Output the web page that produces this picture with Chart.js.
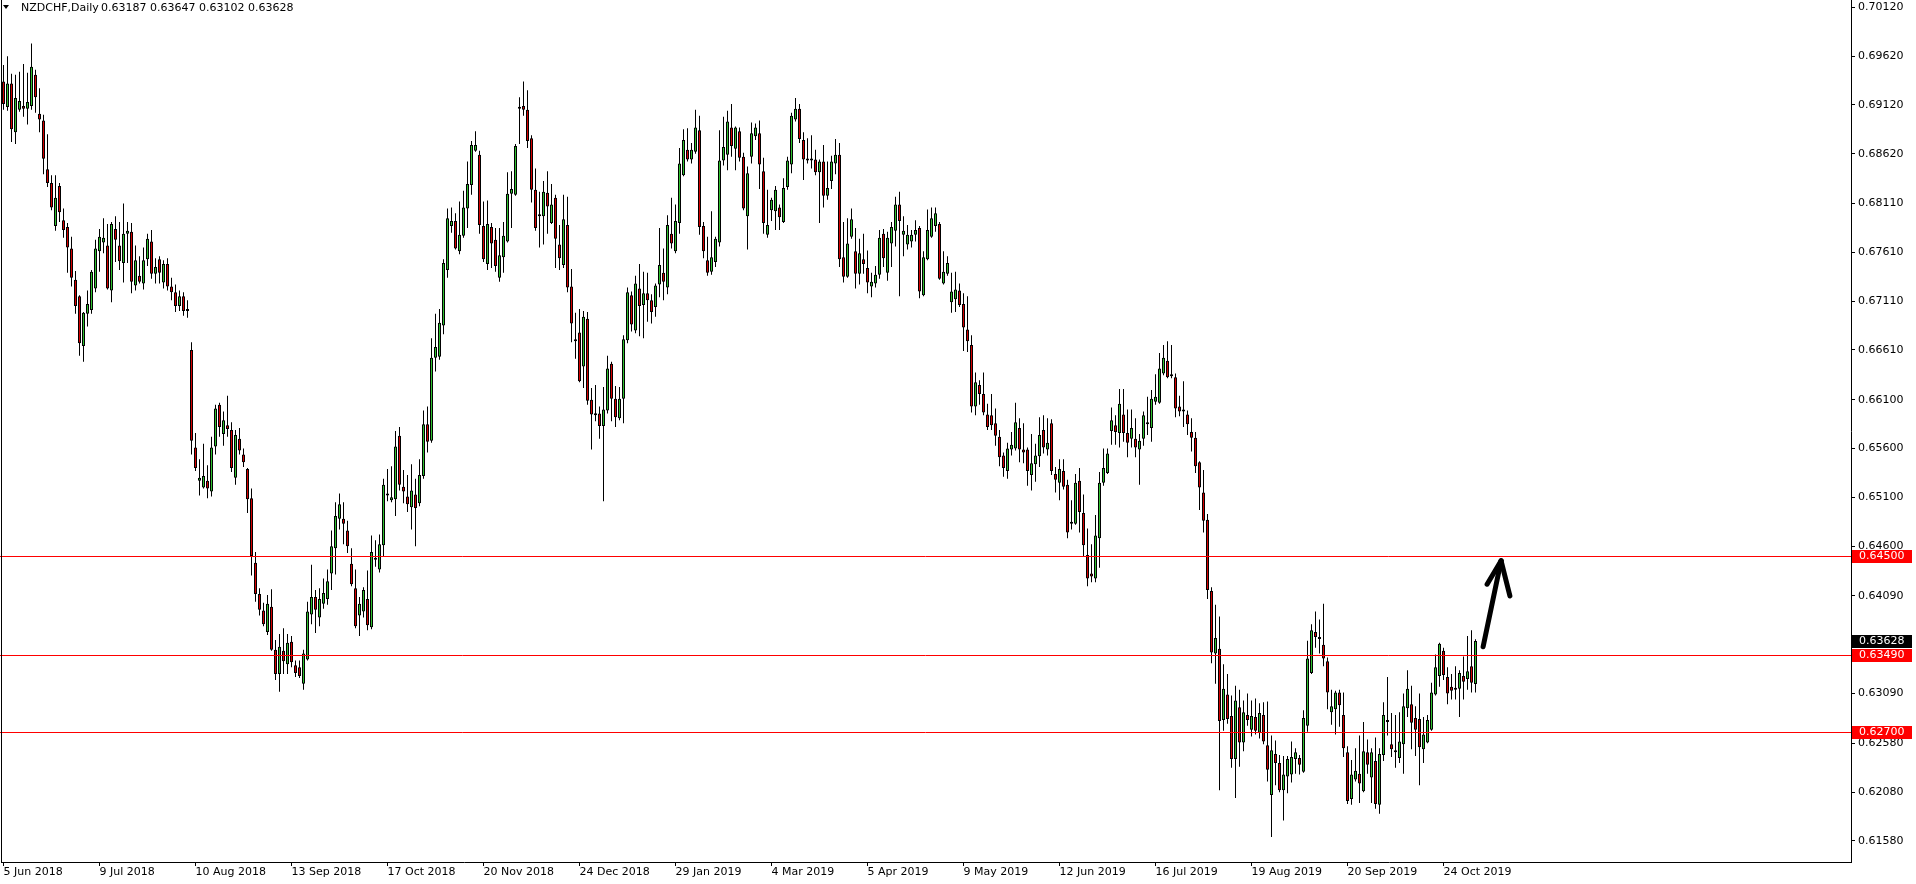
<!DOCTYPE html>
<html>
<head>
<meta charset="utf-8">
<title>NZDCHF Daily</title>
<script src="https://cdn.jsdelivr.net/npm/chart.js@4.4.1/dist/chart.umd.min.js"></script>
<style>
    html, body { margin: 0; padding: 0; background: #fff; }
    #wrap { position: relative; width: 1916px; height: 884px; overflow: hidden; }
    #chart { position: absolute; left: 0; top: 0; }
    .head { position: absolute; top: 1px; font: 11px "DejaVu Sans", sans-serif; color: #000; white-space: pre; }
    #tri { position: absolute; left: 3px; top: 5px; width: 0; height: 0;
           border-left: 3px solid transparent; border-right: 3px solid transparent; border-top: 4px solid #000; }
</style>
</head>
<body>
<div id="wrap">
    <canvas id="chart" width="1916" height="884"></canvas>
    <div id="tri"></div>
    <div class="head" id="symbol" style="left:21px"></div>
    <div class="head" id="ohlc" style="left:101px"></div>
</div>
<script>
// symbol + time frame shown in the top left corner
const symbol = 'NZDCHF,Daily'

// one label every 24 daily bars, first one is bar 0
const barsPerTick = 24
const dateTicks = ['5 Jun 2018', '9 Jul 2018', '10 Aug 2018', '13 Sep 2018', '17 Oct 2018',
    '20 Nov 2018', '24 Dec 2018', '29 Jan 2019', '4 Mar 2019', '5 Apr 2019', '9 May 2019',
    '12 Jun 2019', '16 Jul 2019', '19 Aug 2019', '20 Sep 2019', '24 Oct 2019']

// price scale on the right
const priceTicks = [0.70120, 0.69620, 0.69120, 0.68620, 0.68110, 0.67610, 0.67110, 0.66610,
    0.66100, 0.65600, 0.65100, 0.64600, 0.64090, 0.63590, 0.63090, 0.62580, 0.62080, 0.61580]

// horizontal support / resistance lines (red)
const levels = [0.64500, 0.63490, 0.62700]

// hand drawn arrow: [bar, price] for the tail, the tip and both head ends
const arrowTail = [369.9, 0.6357]
const arrowTip = [374.4, 0.6445]
const arrowWings = [[370.9, 0.6421], [376.6, 0.6409]]

const opens = [
    .6936,.6910,.6934,.6884,.6907,.6911,.6908,.6911,.6943,.6903,
    .6896,.6846,.6832,.6788,.6829,.6794,.6787,.6765,.6733,.6716,
    .6665,.6698,.6702,.6724,.6762,.6771,.6768,.6722,.6785,.6768,
    .6750,.6780,.6782,.6727,.6737,.6729,.6754,.6772,.6739,.6754,
    .6730,.6749,.6726,.6720,.6706,.6716,.6701,.6661,.6561,.6527,
    .6520,.6527,.6516,.6562,.6605,.6575,.6584,.6579,.6530,.6570,
    .6554,.6539,.6509,.6443,.6411,.6394,.6372,.6398,.6354,.6329,
    .6353,.6339,.6362,.6338,.6336,.6319,.6344,.6390,.6408,.6387,
    .6401,.6406,.6432,.6458,.6488,.6488,.6476,.6442,.6417,.6389,
    .6393,.6406,.6377,.6446,.6436,.6461,.6513,.6507,.6508,.6573,
    .6521,.6511,.6500,.6513,.6504,.6532,.6585,.6568,.6653,.6654,
    .6686,.6743,.6788,.6793,.6762,.6778,.6806,.6830,.6865,.6861,
    .6788,.6749,.6787,.6774,.6735,.6756,.6772,.6821,.6820,.6908,
    .6911,.6907,.6878,.6825,.6798,.6798,.6822,.6791,.6817,.6769,
    .6748,.6789,.6726,.6670,.6679,.6644,.6693,.6610,.6595,.6596,
    .6583,.6599,.6647,.6611,.6591,.6611,.6671,.6717,.6681,.6724,
    .6707,.6719,.6712,.6705,.6728,.6740,.6725,.6780,.6762,.6791,
    .6840,.6866,.6856,.6864,.6886,.6788,.6753,.6741,.6751,.6771,
    .6855,.6861,.6889,.6867,.6885,.6859,.6798,.6859,.6880,.6883,
    .6844,.6779,.6804,.6803,.6807,.6792,.6828,.6851,.6897,.6908,
    .6876,.6857,.6855,.6856,.6843,.6854,.6819,.6834,.6852,.6861,
    .6756,.6736,.6777,.6762,.6739,.6754,.6745,.6726,.6729,.6738,
    .6780,.6740,.6770,.6783,.6810,.6779,.6769,.6772,.6779,.6786,
    .6717,.6754,.6777,.6788,.6790,.6729,.6739,.6710,.6713,.6722,
    .6708,.6682,.6666,.6603,.6625,.6616,.6595,.6594,.6586,.6572,
    .6553,.6537,.6559,.6560,.6581,.6559,.6559,.6533,.6544,.6552,
    .6579,.6559,.6586,.6534,.6525,.6537,.6523,.6485,.6483,.6527,
    .6494,.6451,.6432,.6427,.6468,.6525,.6535,.6578,.6584,.6576,
    .6595,.6576,.6570,.6570,.6559,.6570,.6585,.6581,.6608,.6607,
    .6637,.6650,.6635,.6633,.6603,.6599,.6595,.6577,.6571,.6546,
    .6515,.6487,.6414,.6350,.6355,.6282,.6308,.6286,.6242,.6295,
    .6259,.6287,.6272,.6285,.6269,.6287,.6256,.6205,.6247,.6238,
    .6210,.6224,.6226,.6242,.6243,.6229,.6276,.6330,.6372,.6367,
    .6359,.6342,.6290,.6293,.6310,.6287,.6249,.6201,.6221,.6227,
    .6209,.6249,.6223,.6240,.6195,.6246,.6280,.6257,.6251,.6243,
    .6257,.6294,.6298,.6284,.6283,.6252,.6259,.6272,.6308,.6327,
    .6353,.6326,.6316,.6314,.6314,.6327,.6324,.6337,.63187]
const highs = [
    .6953,.6962,.6944,.6943,.6946,.6954,.6945,.6975,.6948,.6929,
    .6902,.6882,.6840,.6840,.6832,.6806,.6791,.6777,.6742,.6717,
    .6700,.6722,.6743,.6774,.6785,.6796,.6790,.6792,.6798,.6792,
    .6811,.6792,.6791,.6768,.6757,.6766,.6780,.6784,.6755,.6757,
    .6753,.6755,.6735,.6728,.6722,.6720,.6712,.6669,.6576,.6549,
    .6565,.6543,.6572,.6605,.6607,.6598,.6614,.6587,.6579,.6581,
    .6560,.6540,.6519,.6454,.6417,.6402,.6410,.6416,.6364,.6370,
    .6376,.6370,.6368,.6343,.6343,.6354,.6403,.6441,.6415,.6417,
    .6427,.6436,.6476,.6505,.6514,.6505,.6486,.6458,.6436,.6408,
    .6418,.6435,.6471,.6466,.6472,.6529,.6539,.6542,.6578,.6582,
    .6538,.6533,.6544,.6529,.6549,.6599,.6603,.6673,.6698,.6703,
    .6754,.6806,.6807,.6801,.6813,.6824,.6854,.6875,.6885,.6865,
    .6813,.6814,.6791,.6786,.6786,.6792,.6843,.6844,.6872,.6920,
    .6936,.6927,.6881,.6847,.6823,.6834,.6844,.6831,.6820,.6789,
    .6820,.6818,.6744,.6699,.6703,.6701,.6700,.6622,.6625,.6603,
    .6623,.6655,.6649,.6624,.6623,.6676,.6725,.6721,.6737,.6749,
    .6741,.6740,.6718,.6729,.6786,.6765,.6799,.6817,.6810,.6868,
    .6887,.6888,.6873,.6907,.6901,.6792,.6777,.6803,.6777,.6886,
    .6900,.6906,.6913,.6890,.6889,.6863,.6849,.6894,.6893,.6896,
    .6858,.6825,.6817,.6829,.6810,.6837,.6859,.6904,.6919,.6913,
    .6884,.6878,.6881,.6866,.6856,.6871,.6854,.6860,.6877,.6873,
    .6792,.6796,.6806,.6786,.6775,.6780,.6763,.6740,.6747,.6784,
    .6785,.6782,.6792,.6818,.6823,.6798,.6789,.6784,.6794,.6788,
    .6762,.6805,.6807,.6807,.6792,.6762,.6757,.6740,.6741,.6729,
    .6719,.6716,.6676,.6638,.6630,.6638,.6606,.6616,.6601,.6579,
    .6556,.6566,.6577,.6607,.6591,.6586,.6561,.6575,.6565,.6592,
    .6594,.6591,.6590,.6541,.6549,.6549,.6528,.6507,.6534,.6540,
    .6513,.6478,.6462,.6492,.6536,.6560,.6560,.6602,.6594,.6621,
    .6621,.6600,.6600,.6591,.6575,.6598,.6613,.6620,.6636,.6658,
    .6666,.6670,.6666,.6637,.6614,.6629,.6599,.6591,.6577,.6547,
    .6538,.6493,.6418,.6400,.6388,.6339,.6329,.6307,.6317,.6313,
    .6302,.6309,.6302,.6304,.6299,.6300,.6301,.6266,.6261,.6246,
    .6245,.6245,.6260,.6253,.6246,.6292,.6363,.6380,.6393,.6385,
    .6401,.6346,.6313,.6312,.6313,.6310,.6255,.6241,.6253,.6266,
    .6280,.6262,.6253,.6264,.6253,.6300,.6326,.6289,.6287,.6290,
    .6309,.6333,.6317,.6296,.6309,.6285,.6287,.6320,.6349,.6361,
    .6356,.6336,.6329,.6337,.6333,.6347,.6368,.6374,.63647]
const lows = [
    .6907,.6906,.6874,.6872,.6905,.6900,.6892,.6907,.6904,.6884,
    .6841,.6828,.6804,.6783,.6792,.6776,.6740,.6726,.6698,.6655,
    .6649,.6685,.6698,.6720,.6741,.6760,.6723,.6710,.6751,.6743,
    .6730,.6750,.6719,.6722,.6729,.6723,.6747,.6734,.6729,.6729,
    .6724,.6722,.6712,.6700,.6701,.6696,.6694,.6554,.6537,.6512,
    .6519,.6509,.6511,.6554,.6572,.6563,.6572,.6536,.6523,.6554,
    .6541,.6494,.6430,.6403,.6389,.6378,.6369,.6353,.6323,.6311,
    .6329,.6329,.6336,.6326,.6325,.6313,.6343,.6380,.6371,.6378,
    .6396,.6400,.6415,.6431,.6477,.6462,.6453,.6419,.6376,.6368,
    .6387,.6374,.6375,.6439,.6433,.6450,.6506,.6505,.6491,.6517,
    .6504,.6495,.6477,.6460,.6501,.6529,.6556,.6566,.6639,.6651,
    .6677,.6735,.6781,.6764,.6759,.6776,.6786,.6820,.6864,.6780,
    .6751,.6743,.6745,.6741,.6731,.6740,.6771,.6786,.6819,.6872,
    .6901,.6868,.6812,.6783,.6766,.6769,.6780,.6790,.6745,.6743,
    .6745,.6720,.6669,.6652,.6628,.6622,.6605,.6559,.6588,.6570,
    .6506,.6596,.6588,.6582,.6589,.6586,.6668,.6680,.6678,.6675,
    .6673,.6690,.6688,.6695,.6715,.6712,.6718,.6765,.6760,.6780,
    .6839,.6854,.6852,.6862,.6779,.6755,.6737,.6738,.6746,.6767,
    .6850,.6845,.6859,.6845,.6854,.6804,.6764,.6852,.6876,.6826,
    .6780,.6776,.6793,.6784,.6784,.6791,.6825,.6842,.6895,.6873,
    .6835,.6852,.6847,.6840,.6791,.6807,.6815,.6826,.6841,.6746,
    .6730,.6735,.6775,.6724,.6728,.6739,.6719,.6715,.6725,.6734,
    .6746,.6732,.6746,.6767,.6716,.6757,.6764,.6766,.6772,.6714,
    .6716,.6753,.6776,.6782,.6733,.6728,.6737,.6699,.6700,.6705,
    .6660,.6659,.6597,.6594,.6605,.6594,.6579,.6579,.6563,.6542,
    .6531,.6529,.6553,.6558,.6546,.6545,.6522,.6517,.6526,.6541,
    .6555,.6553,.6533,.6515,.6507,.6518,.6468,.6477,.6482,.6474,
    .6450,.6419,.6423,.6423,.6438,.6522,.6534,.6564,.6564,.6561,
    .6567,.6551,.6561,.6551,.6523,.6563,.6574,.6567,.6605,.6606,
    .6635,.6632,.6632,.6592,.6593,.6582,.6574,.6557,.6535,.6497,
    .6474,.6406,.6340,.6319,.6210,.6271,.6278,.6233,.6202,.6234,
    .6250,.6276,.6265,.6267,.6263,.6257,.6219,.6162,.6215,.6208,
    .6179,.6207,.6218,.6227,.6226,.6228,.6270,.6329,.6356,.6350,
    .6337,.6293,.6277,.6267,.6275,.6244,.6196,.6195,.6219,.6197,
    .6208,.6227,.6197,.6191,.6186,.6240,.6266,.6244,.6233,.6238,
    .6227,.6285,.6252,.6245,.6215,.6238,.6258,.6271,.6307,.6316,
    .6323,.6298,.6303,.6303,.6285,.6303,.6313,.6310,.63102]
const closes = [
    .6913,.6934,.6887,.6919,.6916,.6908,.6915,.6951,.6920,.6897,
    .6857,.6832,.6807,.6817,.6802,.6784,.6766,.6735,.6706,.6668,
    .6699,.6708,.6741,.6765,.6777,.6776,.6724,.6790,.6774,.6752,
    .6780,.6783,.6731,.6753,.6731,.6753,.6775,.6739,.6746,.6740,
    .6749,.6726,.6720,.6706,.6716,.6701,.6703,.6568,.6540,.6530,
    .6532,.6519,.6561,.6601,.6582,.6589,.6580,.6540,.6574,.6558,
    .6546,.6508,.6450,.6411,.6395,.6380,.6401,.6354,.6329,.6357,
    .6342,.6361,.6341,.6330,.6327,.6350,.6393,.6408,.6395,.6406,
    .6412,.6424,.6460,.6491,.6503,.6483,.6460,.6421,.6378,.6401,
    .6415,.6379,.6454,.6448,.6462,.6523,.6512,.6510,.6562,.6523,
    .6516,.6503,.6517,.6499,.6533,.6585,.6567,.6653,.6664,.6689,
    .6750,.6796,.6793,.6765,.6779,.6807,.6831,.6871,.6871,.6789,
    .6754,.6790,.6770,.6747,.6758,.6778,.6821,.6826,.6870,.6909,
    .6907,.6875,.6825,.6786,.6800,.6823,.6808,.6810,.6775,.6755,
    .6795,.6725,.6688,.6672,.6629,.6695,.6609,.6595,.6594,.6583,
    .6600,.6642,.6611,.6592,.6611,.6672,.6720,.6687,.6729,.6706,
    .6719,.6712,.6700,.6727,.6748,.6731,.6789,.6770,.6793,.6852,
    .6876,.6856,.6866,.6889,.6787,.6762,.6740,.6756,.6775,.6855,
    .6869,.6895,.6870,.6889,.6858,.6806,.6842,.6883,.6889,.6851,
    .6791,.6789,.6815,.6825,.6797,.6827,.6855,.6901,.6908,.6877,
    .6856,.6855,.6857,.6843,.6854,.6819,.6827,.6854,.6861,.6754,
    .6736,.6770,.6795,.6739,.6760,.6749,.6730,.6731,.6738,.6776,
    .6755,.6776,.6787,.6810,.6793,.6783,.6779,.6779,.6784,.6721,
    .6756,.6784,.6796,.6801,.6734,.6741,.6750,.6721,.6723,.6707,
    .6684,.6670,.6603,.6628,.6616,.6597,.6582,.6584,.6573,.6551,
    .6540,.6560,.6564,.6587,.6559,.6556,.6537,.6545,.6553,.6574,
    .6561,.6566,.6537,.6528,.6539,.6521,.6474,.6483,.6525,.6495,
    .6461,.6427,.6429,.6471,.6525,.6540,.6555,.6589,.6577,.6606,
    .6576,.6566,.6581,.6561,.6568,.6594,.6586,.6611,.6613,.6642,
    .6653,.6633,.6634,.6601,.6598,.6598,.6585,.6571,.6542,.6520,
    .6486,.6415,.6351,.6366,.6281,.6314,.6283,.6242,.6302,.6259,
    .6290,.6282,.6286,.6271,.6289,.6260,.6231,.6251,.6238,.6210,
    .6226,.6242,.6244,.6249,.6236,.6284,.6345,.6374,.6367,.6365,
    .6345,.6310,.6296,.6310,.6297,.6253,.6199,.6226,.6230,.6217,
    .6250,.6236,.6249,.6196,.6247,.6287,.6281,.6252,.6249,.6260,
    .6296,.6314,.6279,.6272,.6254,.6267,.6282,.6310,.6336,.6360,
    .6328,.6309,.6312,.6313,.6330,.6321,.6332,.6320,.63628]

const bullColor = '#2fc12f'
const bearColor = '#d40000'
const levelColor = '#ff0000'
const axisFont = { family: 'DejaVu Sans', size: 11 }

// header text, last bar OHLC
const last = closes.length - 1
document.getElementById('symbol').textContent = symbol
document.getElementById('ohlc').textContent = [opens[last], highs[last], lows[last], closes[last]].map(v => v.toFixed(5)).join(' ')

let wicks = highs.map((h, i) => ({ x: i, y: [lows[i], h] }))
let bodies = opens.map((o, i) => ({ x: i, y: [o, closes[i]] }))
let candleColor = ctx => closes[ctx.dataIndex] >= opens[ctx.dataIndex] ? bullColor : bearColor

// red lines, arrow and the price boxes on the right scale
const overlays = {
    id: 'overlays',
    afterDatasetsDraw(chart) {
        const ctx = chart.ctx, x = chart.scales.x, y = chart.scales.y
        const area = chart.chartArea
        ctx.save()
        ctx.strokeStyle = levelColor
        ctx.lineWidth = 1
        levels.forEach(l => {
            let py = Math.round(y.getPixelForValue(l)) + 0.5
            ctx.beginPath(); ctx.moveTo(0, py); ctx.lineTo(area.right, py); ctx.stroke()
        })
        // arrow
        ctx.strokeStyle = '#000'
        ctx.lineWidth = 5
        ctx.lineCap = 'round'
        ctx.lineJoin = 'round'
        let pt = p => [x.getPixelForValue(p[0]), y.getPixelForValue(p[1])]
        let tail = pt(arrowTail), tip = pt(arrowTip)
        ctx.beginPath(); ctx.moveTo(tail[0], tail[1]); ctx.lineTo(tip[0], tip[1]); ctx.stroke()
        arrowWings.forEach(w => {
            let e = pt(w)
            ctx.beginPath(); ctx.moveTo(e[0], e[1]); ctx.lineTo(tip[0], tip[1]); ctx.stroke()
        })
        ctx.restore()
    },
    afterDraw(chart) {
        const ctx = chart.ctx, y = chart.scales.y
        const area = chart.chartArea
        ctx.save()
        // frame: left line and the bottom line under the first bars
        ctx.fillStyle = '#000'
        ctx.fillRect(1, 0, 1, area.bottom + 1)
        ctx.fillRect(1, Math.round(area.bottom), area.left + 1, 1)
        ctx.font = '11px "DejaVu Sans"'
        ctx.textBaseline = 'middle'
        let box = (v, bg) => {
            let py = Math.round(y.getPixelForValue(v))
            ctx.fillStyle = bg
            ctx.fillRect(area.right + 1, py - 6, 60, 13)
            ctx.fillStyle = '#fff'
            ctx.fillText(v.toFixed(5), area.right + 8, py + 0.5)
        }
        levels.forEach(l => box(l, levelColor))
        box(closes[last], '#000')
        ctx.restore()
    }
}

new Chart(document.getElementById('chart'), {
    type: 'bar',
    data: {
        datasets: [
            { data: bodies, order: 0, grouped: false, barThickness: 3, backgroundColor: candleColor,
              borderColor: '#000', borderWidth: 1, borderSkipped: false, inflateAmount: 0, minBarLength: 2 },
            { data: wicks, order: 1, grouped: false, barThickness: 1, backgroundColor: '#000',
              borderWidth: 0, inflateAmount: 0 }
        ]
    },
    options: {
        responsive: false,
        devicePixelRatio: 1,
        animation: false,
        layout: { padding: { left: 2, top: 0, right: 0, bottom: 0 } },
        plugins: { legend: { display: false }, tooltip: { enabled: false } },
        scales: {
            x: {
                type: 'linear',
                offset: false,
                bounds: 'data',
                min: -0.375,
                max: 461.875,
                afterBuildTicks: s => { s.ticks = dateTicks.map((d, k) => ({ value: k * barsPerTick })) },
                afterFit: s => { s.height = 22; s.paddingLeft = 0; s.paddingRight = 0 },
                grid: { offset: false, drawOnChartArea: false, drawTicks: true, tickLength: 4, color: '#000' },
                border: { display: true, color: '#000' },
                ticks: {
                    autoSkip: false, maxRotation: 0, align: 'start', padding: 0, color: '#000', font: axisFont,
                    callback: v => dateTicks[Math.round(v / barsPerTick)]
                }
            },
            y: {
                position: 'right',
                min: 0.613647,
                max: 0.70195,
                afterBuildTicks: s => { s.ticks = priceTicks.map(v => ({ value: v })) },
                afterFit: s => { s.width = 65; s.paddingTop = 0; s.paddingBottom = 0 },
                grid: { drawOnChartArea: false, drawTicks: true, tickLength: 4, color: '#000' },
                border: { display: true, color: '#000' },
                ticks: { padding: 3, color: '#000', font: axisFont, callback: v => v.toFixed(5) }
            }
        }
    },
    plugins: [overlays]
})
</script>
</body>
</html>
